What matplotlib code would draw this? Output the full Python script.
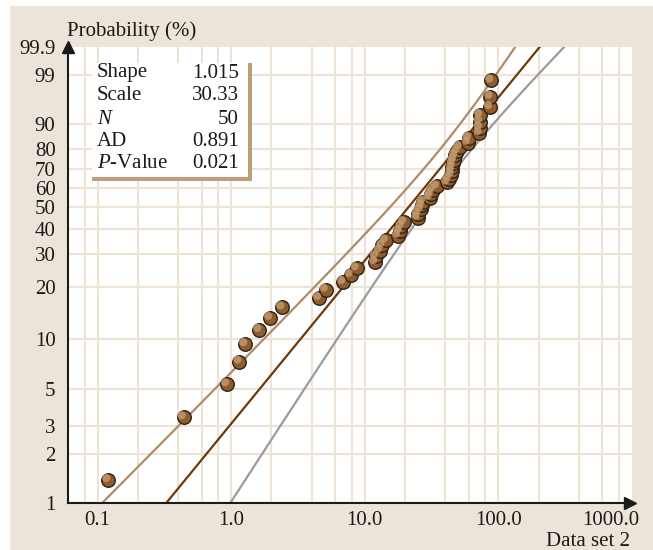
import numpy as np
import matplotlib
matplotlib.use("Agg")
import matplotlib.pyplot as plt
import matplotlib.transforms as mtransforms
from matplotlib.patches import Rectangle

plt.rcParams["font.family"] = ["Liberation Serif", "DejaVu Serif"]
plt.rcParams["mathtext.fontset"] = "custom"
plt.rcParams["mathtext.rm"] = "Liberation Serif"
plt.rcParams["mathtext.it"] = "Liberation Serif:italic"

# Weibull fit summary
shape = 1.015
scale = 30.33
n_obs = 50
ad_stat = 0.891
p_value = 0.021

# Data set 2, sorted observations
data_set_2 = [0.12, 0.44, 0.93, 1.15, 1.27, 1.62, 1.95, 2.41, 4.54, 5.09,
              6.89, 7.82, 8.67, 11.95, 12.1, 12.94, 13.55, 14.35, 17.7, 18.2,
              18.8, 19.65, 24.8, 25.0, 26.2, 26.6, 27.2, 30.5, 31.1, 32.2,
              34.6, 41.3, 42.4, 44.4, 44.6, 45.1, 45.6, 46.5, 47.5, 49.2,
              51.2, 59.0, 60.0, 72.1, 72.4, 72.7, 73.0, 86.5, 87.0, 88.2]

prob_ticks = [1, 2, 3, 5, 10, 20, 30, 40, 50, 60, 70, 80, 90, 99, 99.9]
x_ticks = [0.1, 1.0, 10.0, 100.0, 1000.0]
x_tick_labels = ["0.1", "1.0", "10.0", "100.0", "1000.0"]

BEIGE = "#ede4d9"
GRID = "#efe3d5"
TAN = "#ad8c69"
DARK = "#6a3a0c"
GREY = "#9b9b9b"
INK = "#1a1a1a"
FS = 15


def weibull_y(p_pct):
    p = np.asarray(p_pct, dtype=float) / 100.0
    return np.log(-np.log(1.0 - p))


fig = plt.figure(figsize=(6.53, 5.5), dpi=100)
fig.patch.set_facecolor("white")
fig.patches.append(Rectangle((10 / 653, 0), 1, 1 - 6 / 550, transform=fig.transFigure,
                             facecolor=BEIGE, edgecolor="none", zorder=-10))

ax = fig.add_axes([68 / 653, 1 - 503 / 550, (632 - 68) / 653, (503 - 47) / 550])
ax.set_facecolor("white")
ax.set_xscale("log")
ax.set_xlim(0.06, 1000)
y_bottom = -4.565
y_top = float(weibull_y(99.9))
ax.set_ylim(y_bottom, y_top)

# grid
for d in [0.01, 0.1, 1, 10, 100]:
    for m in [1, 2, 4, 6, 8]:
        v = d * m
        if 0.06 < v < 1000:
            ax.axvline(v, color=GRID, lw=1.5, zorder=0)
for p in prob_ticks[1:-1]:
    ax.axhline(weibull_y(p), color=GRID, lw=1.5, zorder=0)

# fitted line and 95% confidence bounds
w = np.linspace(y_bottom - 0.2, y_top + 0.2, 300)
b = 1.0 / shape
ln_fit = np.log(scale) + b * w
var_ln = b ** 2 / n_obs * (1.1087 - 0.5140 * w + 0.6079 * w ** 2)
half = 1.96 * np.sqrt(var_ln)
ax.plot(np.exp(ln_fit - half), w, color=TAN, lw=1.6, zorder=2)
ax.plot(np.exp(ln_fit + half), w, color=GREY, lw=1.6, zorder=2)
ax.plot(np.exp(ln_fit), w, color=DARK, lw=1.6, zorder=2)

# points at median ranks
ranks = np.arange(1, n_obs + 1)
p_med = (ranks - 0.3) / (n_obs + 0.4) * 100
y_pts = weibull_y(p_med)
ax.scatter(data_set_2, y_pts, s=95, facecolor="#8e5c2c", edgecolor="#2f2216",
           linewidth=1.0, zorder=4)
shine = ax.transData + mtransforms.ScaledTranslation(-1.4 / 72, 1.4 / 72, fig.dpi_scale_trans)
ax.scatter(data_set_2, y_pts, s=34, facecolor="#c39b70", edgecolor="none",
           alpha=0.8, transform=shine, zorder=5)

# axes, ticks
for side in ["top", "right"]:
    ax.spines[side].set_visible(False)
for side in ["left", "bottom"]:
    ax.spines[side].set_linewidth(1.5)
    ax.spines[side].set_color(INK)
    ax.spines[side].set_zorder(6)
ax.plot([0], [1.0], marker="^", markersize=9, color=INK,
        transform=ax.transAxes, clip_on=False, zorder=7)
ax.plot([0.996], [0], marker=">", markersize=9, color=INK,
        transform=ax.transAxes, clip_on=False, zorder=7)

ax.set_yticks(weibull_y(prob_ticks))
ax.set_yticklabels([f"{p:g}" for p in prob_ticks])
ax.set_xticks(x_ticks)
ax.set_xticklabels(x_tick_labels)
ax.xaxis.set_minor_locator(matplotlib.ticker.NullLocator())
ax.tick_params(length=0, labelsize=FS, colors=INK)
ax.tick_params(axis="y", pad=9)
ax.tick_params(axis="x", pad=6)
last = ax.get_xticklabels()[-1]
last.set_transform(last.get_transform() +
                   mtransforms.ScaledTranslation(-0.21, 0, fig.dpi_scale_trans))

fig.text(67 / 653, 1 - 31 / 550, "Probability (%)", fontsize=FS,
         ha="left", va="center", color=INK)
fig.text(630 / 653, 1 - 546 / 550, "Data set 2", fontsize=FS,
         ha="right", va="baseline", color=INK)

# summary box
bx0, by0, bx1, by1 = 92, 63, 248, 177
fig.patches.append(Rectangle((bx0 / 653, 1 - (by1 + 4) / 550), (bx1 + 4 - bx0) / 653,
                             (by1 + 4 - by0) / 550, transform=fig.transFigure,
                             facecolor="#bf9d78", edgecolor="none", zorder=8))
fig.patches.append(Rectangle((bx0 / 653, 1 - by1 / 550), (bx1 - bx0) / 653,
                             (by1 - by0) / 550, transform=fig.transFigure,
                             facecolor="white", edgecolor="none", zorder=9))
rows = [("Shape", f"{shape:.3f}"), ("Scale", f"{scale:.2f}"), (r"$N$", f"{n_obs}"),
        ("AD", f"{ad_stat:.3f}"), (r"$P$-Value", f"{p_value:.3f}")]
row_y = [73, 96, 119, 141.5, 163.5]
for (name, val), yy in zip(rows, row_y):
    fig.text(97 / 653, 1 - yy / 550, name, fontsize=FS, ha="left", va="center",
             color=INK, zorder=10)
    fig.text(239 / 653, 1 - yy / 550, val, fontsize=FS, ha="right", va="center",
             color=INK, zorder=10)

fig.savefig("out.png", dpi=100)
